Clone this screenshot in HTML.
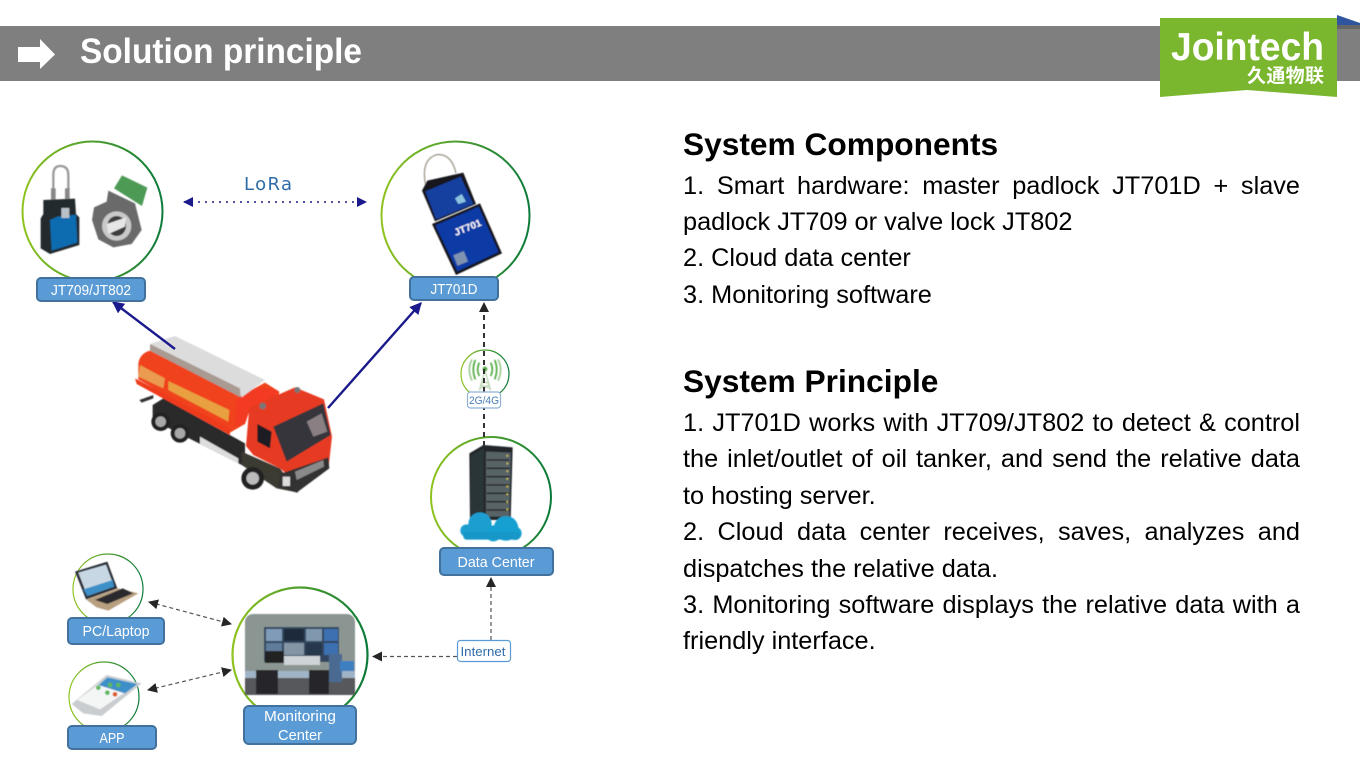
<!DOCTYPE html>
<html lang="en"><head><meta charset="utf-8"><title>Solution principle</title>
<style>
html,body{margin:0;padding:0;background:#fff}
body{width:1360px;height:773px;overflow:hidden;position:relative}
svg{position:absolute;left:0;top:0}
.t{position:absolute;left:683px;width:617px;font:25.3px/36.4px "Liberation Sans",sans-serif;color:#000;white-space:nowrap}
.j{text-align:justify;text-align-last:justify}
.h{font:bold 31.700px/40px "Liberation Sans",sans-serif}
</style></head><body>
<svg width="1360" height="773" viewBox="0 0 1360 773" font-family="'Liberation Sans',sans-serif">
<defs>
<linearGradient id="g"><stop offset="0" stop-color="#8fc31f"/><stop offset="1" stop-color="#0b7a3a"/></linearGradient>
<filter id="b" x="-5%" y="-5%" width="110%" height="110%"><feGaussianBlur stdDeviation="1.500"/></filter>
<filter id="b2" x="-5%" y="-5%" width="110%" height="110%"><feGaussianBlur stdDeviation=".5"/></filter>
<marker id="n" viewBox="0 0 10 10" refX="9" refY="5" markerWidth="12" markerHeight="12" markerUnits="userSpaceOnUse" orient="auto-start-reverse"><path d="M0 0L10 5L0 10Z" fill="#1a1a8c"/></marker>
<marker id="m" viewBox="0 0 10 10" refX="9" refY="5" markerWidth="10" markerHeight="10" markerUnits="userSpaceOnUse" orient="auto-start-reverse"><path d="M0 0L10 5L0 10Z" fill="#1a1a8c"/></marker>
<marker id="d" viewBox="0 0 10 10" refX="9" refY="5" markerWidth="10" markerHeight="10" markerUnits="userSpaceOnUse" orient="auto-start-reverse"><path d="M0 0L10 5L0 10Z" fill="#262626"/></marker>
</defs>

<!-- header -->
<rect x="0" y="26" width="1360" height="55" fill="#7f7f7f"/>
<path d="M1337 15L1360 23V25H1337Z" fill="#2f559f"/>
<rect x="1337" y="25" width="23" height="4" fill="#666"/>
<path d="M18 47H40V39L55 54.5L40 69V62H18Z" fill="#fff"/>
<text x="80" y="63" font-size="35" font-weight="bold" fill="#fff" textLength="282" lengthAdjust="spacingAndGlyphs">Solution principle</text>
<path d="M1160 18H1337V97L1247 90L1160 97Z" fill="#7ab72e"/>
<text x="1171" y="60" font-size="39" font-weight="bold" fill="#fff" textLength="153" lengthAdjust="spacingAndGlyphs">Jointech</text>
<text x="1247" y="82" font-size="19" font-weight="bold" fill="#fff" font-family="'Liberation Sans','Noto Sans CJK SC',sans-serif" textLength="77">久通物联</text>

<!-- circles -->
<g fill="none" stroke="url(#g)">
<circle cx="92.5" cy="211.5" r="70" stroke-width="2"/>
<circle cx="455.5" cy="215.5" r="74" stroke-width="2"/>
<circle cx="491" cy="497" r="60" stroke-width="2"/>
<circle cx="485" cy="374" r="24" stroke-width="1.2"/>
<circle cx="300" cy="655" r="67.5" stroke-width="2.2"/>
<circle cx="108" cy="589" r="35" stroke-width="1.2"/>
<circle cx="104" cy="697" r="35" stroke-width="1.2"/>
</g>

<!-- JT709 lock and valve -->
<g transform="translate(0 120) scale(.33333)" filter="url(#b)">
<path d="M160 240V165Q160 138 180 138Q205 138 205 165V240" fill="none" stroke="#9a9a9a" stroke-width="7"/>
<rect x="153" y="205" width="14" height="35" fill="#888"/><rect x="195" y="205" width="14" height="35" fill="#888"/>
<path d="M130 240L225 236L228 282L238 292V375L150 402L122 385V295L130 282Z" fill="#20292e"/>
<path d="M172 290L228 284L232 368L155 392L150 300Z" fill="#0e6cb0"/>
<rect x="184" y="264" width="24" height="30" fill="#b9c1c8"/>
<path d="M366 166L442 203L426 258L342 205Z" fill="#4e9a55"/>
<path d="M325 212L405 250L425 330L395 372L340 382L295 358L276 300L282 262L320 245Z" fill="#6a6a6a"/>
<ellipse cx="350" cy="318" rx="44" ry="44" fill="#c9c9c9"/>
<ellipse cx="350" cy="318" rx="28" ry="30" fill="#3e3e3e"/>
<path d="M320 312L378 292L375 320L325 342Z" fill="#e6e6e6"/>
</g>

<!-- JT701 lock -->
<g transform="translate(340 120) scale(.33333)" filter="url(#b)">
<path d="M258 200Q240 120 290 104Q335 100 348 160" fill="none" stroke="#a09a8c" stroke-width="4"/>
<path d="M246 212L262 182L370 158L408 252L285 304Z" fill="#13161c"/>
<path d="M256 214L362 170L400 252L288 298Z" fill="#123fa0"/>
<path d="M345 235L365 222L378 245L355 252Z" fill="#8cc4e0"/>
<path d="M276 312L420 250L486 400L348 465Z" fill="#14171e"/>
<path d="M286 316L416 260L476 396L352 454Z" fill="#0f3aa5"/>
<rect x="345" y="398" width="34" height="34" fill="#7f93b0" transform="rotate(-22 362 415)"/>
<text x="342" y="342" font-size="30" font-weight="bold" fill="#fff" transform="rotate(-22 360 330)">JT701</text>
</g>

<!-- truck -->
<g transform="translate(120 320) scale(.33333)" filter="url(#b)">
<path d="M58 240L100 225V235L65 248Z" fill="#333"/>
<path d="M98 255L130 235L375 370V440L98 300Z" fill="#2c2c2c"/>
<circle cx="122" cy="305" r="28" fill="#222"/><circle cx="122" cy="305" r="16" fill="#a8a8a8"/>
<circle cx="180" cy="340" r="28" fill="#222"/><circle cx="180" cy="340" r="16" fill="#a8a8a8"/>
<path d="M240 350L355 415V430L240 372Z" fill="#ddd"/>
<path d="M55 130Q60 100 90 92L360 228L435 188L478 215L472 250L392 262L375 312L330 338L55 178Z" fill="#f0431f"/>
<path d="M350 240Q400 190 470 210L470 245L392 262L375 310L345 320Z" fill="#f23b22"/>
<path d="M90 72L165 48L435 180L365 232L355 208L90 88Z" fill="#dcdcdc"/>
<path d="M90 72L360 205L362 232L90 92Z" fill="#a99a92"/>
<path d="M145 183L328 270L325 305L145 210Z" fill="#e8a040"/>
<path d="M60 135L135 175L130 205L55 170Z" fill="#ea9b50"/>
<path d="M45 175L330 325L330 345L50 192Z" fill="#ee3a1c"/>
<path d="M388 262L525 202L612 238L636 350L626 440L540 495L480 445L400 405L378 378Z" fill="#e63a20"/>
<path d="M365 395L480 445L535 518L470 505L365 435Z" fill="#3b3b33"/>
<path d="M460 320L610 250L632 345L500 425Z" fill="#34343a"/>
<path d="M560 305L605 280L622 335L580 350Z" fill="#8a8084"/>
<path d="M412 312L455 335L450 385L412 365Z" fill="#1f1f24"/>
<path d="M480 462L625 412L628 445L530 518L475 500Z" fill="#333"/>
<path d="M525 455L610 420L612 440L530 480Z" fill="#8a8a8a"/>
<circle cx="398" cy="475" r="34" fill="#222"/><circle cx="398" cy="475" r="19" fill="#bbb"/>
<rect x="488" y="470" width="22" height="28" fill="#ddd"/>
<circle cx="428" cy="258" r="10" fill="#777"/><circle cx="532" cy="210" r="9" fill="#777"/>
</g>

<!-- tower -->
<g transform="translate(400 340) scale(.33333)" filter="url(#b)">
<path d="M238 152L255 90L272 152M246 128H264M242 145L268 135M268 145L242 135" fill="none" stroke="#a9c9a0" stroke-width="3"/>
<circle cx="255" cy="87" r="7" fill="#4da73c"/>
<g fill="none" stroke="#4da73c" stroke-width="5">
<path d="M238 68Q228 88 238 108M272 68Q282 88 272 108M226 60Q214 88 226 118M284 60Q296 88 284 118"/>
<path d="M216 58Q200 88 216 122M294 58Q310 88 294 122" stroke="#9ccb8e"/>
</g>
</g>

<!-- server -->
<g transform="translate(400 340) scale(.33333)" filter="url(#b)">
<path d="M208 340L250 315L338 322L332 540H210Z" fill="#21282c"/>
<path d="M258 335L332 338L328 530L258 530Z" fill="#596367"/>
<g stroke="#15191b" stroke-width="4"><path d="M260 360H328M260 385H328M260 410H328M260 435H328M260 460H328M260 485H328M260 510H328"/></g>
<path d="M322 345V520" stroke="#d9c84a" stroke-width="5" stroke-dasharray="5 18"/>
<path d="M213 345L252 325V530H213Z" fill="#2b3438"/>
<circle cx="200" cy="572" r="19" fill="#1b9fd0"/><circle cx="240" cy="552" r="35" fill="#1b9fd0"/>
<circle cx="318" cy="565" r="37" fill="#16a0d2"/><circle cx="280" cy="580" r="24" fill="#16a0d2"/><circle cx="345" cy="580" r="20" fill="#16a0d2"/>
<rect x="190" y="575" width="170" height="24" rx="10" fill="#1797c8"/>
</g>

<!-- laptop, phone -->
<g transform="translate(50 550) scale(.33333)" filter="url(#b)">
<path d="M75 65L172 35L202 115L108 148Z" fill="#2b2f38"/>
<path d="M85 68L168 44L192 110L112 138Z" fill="#c7d8e4"/>
<path d="M100 118L188 90L192 110L112 138Z" fill="#3e8fc8"/>
<path d="M108 148L205 115L265 130L175 182L140 172Z" fill="#b79f80"/>
<path d="M135 150L218 115L250 130L172 162Z" fill="#2a2a2e"/>
<path d="M65 462L170 375L275 400L155 498L100 490Z" fill="#c9cdd0"/>
<path d="M82 450L172 382L262 402L150 478Z" fill="#f4f6f6"/>
<path d="M172 382L262 402L225 430L145 405Z" fill="#3e8fc8"/>
<circle cx="145" cy="413" r="7" fill="#5cb85c"/><circle cx="180" cy="405" r="7" fill="#5cb85c"/><circle cx="205" cy="405" r="7" fill="#5cb85c"/><circle cx="172" cy="428" r="7" fill="#5cb85c"/><circle cx="195" cy="433" r="7" fill="#e05a2b"/>
</g>

<!-- monitoring photo -->
<g filter="url(#b2)">
<rect x="245" y="614" width="110" height="80.500" rx="8" fill="#8b9591"/>
<rect x="264" y="627" width="75" height="35" fill="#33465f"/>
<rect x="266" y="629" width="16" height="12" fill="#7f9bb8"/><rect x="284" y="629" width="20" height="12" fill="#1d2a3a"/><rect x="306" y="629" width="16" height="12" fill="#8098ad"/><rect x="324" y="629" width="14" height="12" fill="#3d6fb0"/>
<rect x="266" y="643" width="16" height="9" fill="#5f7c9b"/><rect x="284" y="643" width="20" height="12" fill="#8495a6"/><rect x="306" y="643" width="16" height="12" fill="#28384c"/><rect x="324" y="643" width="14" height="12" fill="#3d6fb0"/>
<rect x="284" y="656" width="36" height="9" fill="#cdd3d7"/>
<rect x="265" y="651" width="19" height="12" fill="#222"/>
<rect x="245" y="671" width="110" height="8" fill="#9fb4c6"/>
<rect x="245" y="678" width="110" height="17" fill="#56595b"/>
<rect x="256" y="670" width="22" height="24" fill="#26282a"/>
<rect x="309" y="670" width="20" height="24" fill="#26282a"/>
<rect x="329" y="654" width="13" height="28" fill="#4b6b92"/>
<rect x="340" y="661" width="14" height="10" fill="#3d7fc0"/>
</g>

<!-- connectors -->
<g fill="none">
<line x1="184" y1="202" x2="366" y2="202" stroke="#1a1a8c" stroke-width="1.600" stroke-dasharray="2 5" marker-start="url(#m)" marker-end="url(#m)"/>
<line x1="175" y1="349" x2="113" y2="302" stroke="#1a1a8c" stroke-width="2.400" marker-end="url(#n)"/>
<line x1="328" y1="408" x2="421" y2="303" stroke="#1a1a8c" stroke-width="2.400" marker-end="url(#n)"/>
<line x1="484" y1="446" x2="484" y2="303" stroke="#333" stroke-width="2" stroke-dasharray="5 4" marker-end="url(#d)"/>
<line x1="457" y1="656.500" x2="373" y2="656.500" stroke="#555" stroke-width="1.200" stroke-dasharray="4 3" marker-end="url(#d)"/>
<line x1="491" y1="640" x2="491" y2="578" stroke="#555" stroke-width="1.200" stroke-dasharray="4 3" marker-end="url(#d)"/>
<line x1="149" y1="602" x2="231" y2="624" stroke="#555" stroke-width="1.200" stroke-dasharray="4 3" marker-start="url(#d)" marker-end="url(#d)"/>
<line x1="148" y1="690" x2="231" y2="670" stroke="#555" stroke-width="1.200" stroke-dasharray="4 3" marker-start="url(#d)" marker-end="url(#d)"/>
</g>

<text x="244" y="190" font-size="18" fill="#2e6ca8" textLength="48" font-family="'DejaVu Sans',sans-serif">LoRa</text>

<!-- labels -->
<g fill="#5b9bd5" stroke="#41719c" stroke-width="2">
<rect x="37" y="278" width="108" height="23" rx="4"/>
<rect x="410" y="277" width="88" height="23" rx="4"/>
<rect x="440" y="548" width="113" height="27" rx="4"/>
<rect x="68" y="618" width="96" height="26" rx="4"/>
<rect x="68" y="726" width="88" height="23" rx="4"/>
<rect x="244" y="706" width="112" height="38" rx="5"/>
</g>
<g fill="#fff" font-size="15" text-anchor="middle">
<text x="91" y="295" textLength="80" lengthAdjust="spacingAndGlyphs">JT709/JT802</text>
<text x="454" y="294" textLength="47" lengthAdjust="spacingAndGlyphs">JT701D</text>
<text x="496" y="567" textLength="77" lengthAdjust="spacingAndGlyphs">Data Center</text>
<text x="116" y="636" textLength="67" lengthAdjust="spacingAndGlyphs">PC/Laptop</text>
<text x="112" y="743" textLength="25" lengthAdjust="spacingAndGlyphs">APP</text>
<text x="300" y="721" textLength="72" lengthAdjust="spacingAndGlyphs">Monitoring</text>
<text x="300" y="740" textLength="44" lengthAdjust="spacingAndGlyphs">Center</text>
</g>
<rect x="467.500" y="392" width="33" height="16" rx="3" fill="#fff" stroke="#8fb2d6" stroke-width="1.200"/>
<text x="484" y="404" font-size="11" fill="#4a7fb5" text-anchor="middle" textLength="30" lengthAdjust="spacingAndGlyphs">2G/4G</text>
<rect x="457.500" y="640.500" width="53" height="21" rx="3" fill="#fff" stroke="#5b9bd5" stroke-width="1.200"/>
<text x="483" y="656" font-size="13" fill="#2e6ca8" text-anchor="middle" textLength="45" lengthAdjust="spacingAndGlyphs">Internet</text>
</svg>

<div class="t h" style="top:124px">System Components</div>
<div class="t j" style="top:167.500px">1. Smart hardware: master padlock JT701D + slave</div>
<div class="t" style="top:203.500px">padlock JT709 or valve lock JT802</div>
<div class="t" style="top:240px">2. Cloud data center</div>
<div class="t" style="top:276.500px">3. Monitoring software</div>
<div class="t h" style="top:361px">System Principle</div>
<div class="t j" style="top:404.500px">1. JT701D works with JT709/JT802 to detect &amp; control</div>
<div class="t j" style="top:441px">the inlet/outlet of oil tanker, and send the relative data</div>
<div class="t" style="top:477.500px">to hosting server.</div>
<div class="t j" style="top:514px">2. Cloud data center receives, saves, analyzes and</div>
<div class="t" style="top:550.500px">dispatches the relative data.</div>
<div class="t j" style="top:586.500px">3. Monitoring software displays the relative data with a</div>
<div class="t" style="top:623px">friendly interface.</div>
</body></html>
